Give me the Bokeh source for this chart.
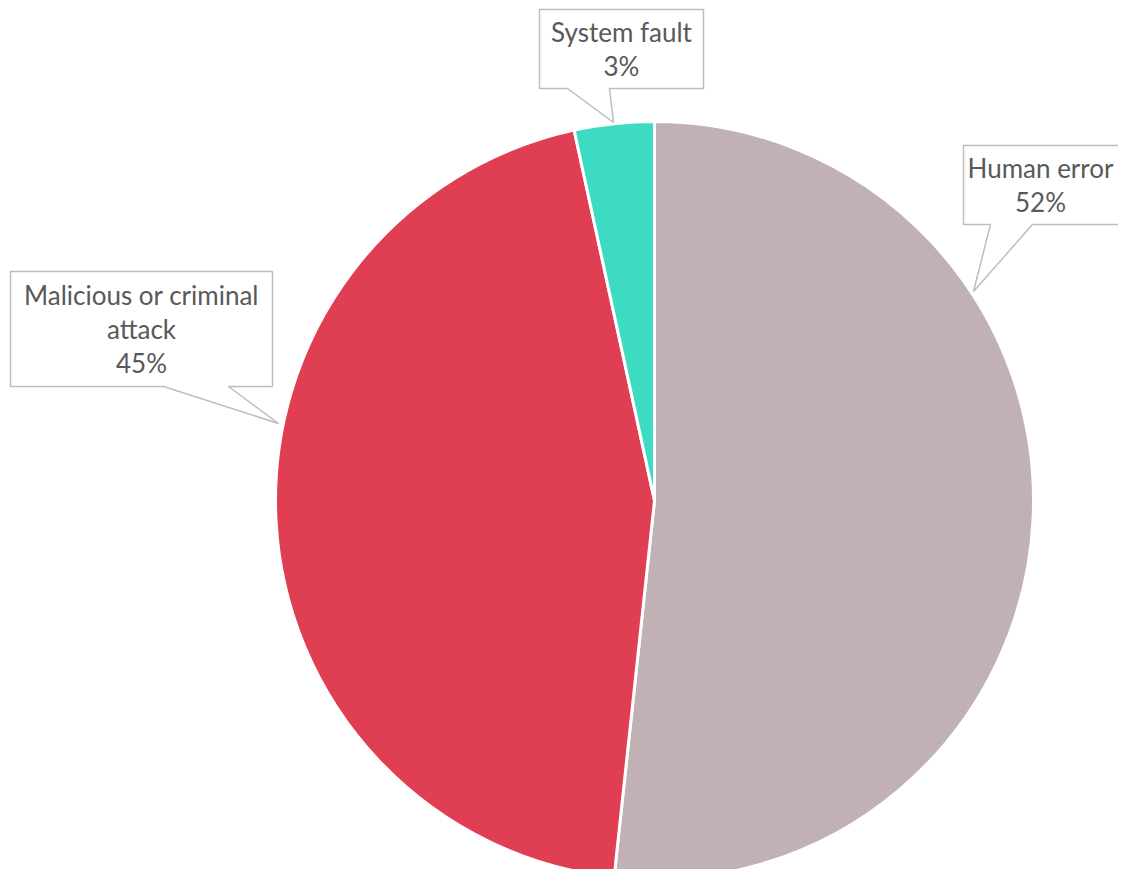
import math
from bokeh.plotting import figure
from bokeh.models import ColumnDataSource, Range1d
from bokeh.core.properties import value
from bokeh.embed import file_html
from bokeh.resources import INLINE

# ---- data ----
categories = ["Human error", "Malicious or criminal attack", "System fault"]
label_lines = [["Human error"], ["Malicious or criminal", "attack"], ["System fault"]]
shares = [51.7, 44.9, 3.4]
colors = ["#c1b1b4", "#e03e53", "#3ddbc2"]

# ---- layout (screen-pixel geometry) ----
PW, PH = 1118, 869
CX, CY, R = 654, 500, 379

def sy(y):  # screen y -> data y
    return PH - y

p = figure(width=PW, height=PH, output_backend="svg",
           toolbar_location=None, x_range=Range1d(0, PW), y_range=Range1d(0, PH),
           min_border=0)
p.axis.visible = False
p.grid.visible = False
p.outline_line_color = None
p.background_fill_color = "white"

total = sum(shares)
starts, ends = [], []
acc = 0.0
for s in shares:
    starts.append(math.pi / 2 - 2 * math.pi * acc / total)
    acc += s
    ends.append(math.pi / 2 - 2 * math.pi * acc / total)

src = ColumnDataSource(dict(cat=categories, start=starts, end=ends, color=colors))
p.wedge(x=CX, y=sy(CY), radius=R, start_angle="start", end_angle="end",
        direction="clock", fill_color="color", line_color="white", line_width=3, source=src)

# callouts: box (x0, x1, y0, y1), pointer base (bx0, bx1), tip (tx, ty) in screen px
callouts = {
    "Human error": dict(box=(963, 1135, 145, 224), base=(990, 1032), tip=(973, 291), cx=1040),
    "Malicious or criminal attack": dict(box=(10, 272, 271, 386), base=(163, 228), tip=(278, 423), cx=141),
    "System fault": dict(box=(539, 703, 9, 88), base=(567, 609), tip=(613, 122), cx=621),
}

FONT = "Lato"
FS = 26
LINE_H = 34
for cat, lines, s in zip(categories, label_lines, shares):
    c = callouts[cat]
    x0, x1, y0, y1 = c["box"]
    bx0, bx1 = c["base"]
    tx, ty = c["tip"]
    xs = [x0, x1, x1, bx1, tx, bx0, x0]
    ys = [y0, y0, y1, y1, ty, y1, y1]
    p.patch(x=xs, y=[sy(v) for v in ys], fill_color="white", line_color="#bdbdbd", line_width=1.5)
    txt = lines + [f"{round(s)}%"]
    n = len(txt)
    mid = (y0 + y1) / 2
    for i, t in enumerate(txt):
        yy = mid + (i - (n - 1) / 2) * LINE_H
        p.text(x=[c["cx"]], y=[sy(yy)], text=[t], text_align="center", text_baseline="middle",
               text_font=value(FONT), text_font_size=f"{FS}px", text_color="#595959")

open("out.html", "w").write(file_html(p, INLINE))
